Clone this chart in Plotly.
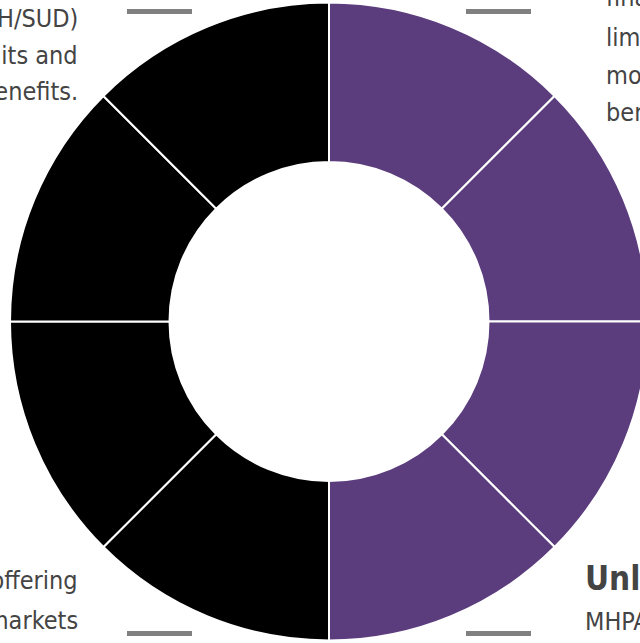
import plotly.graph_objects as go

W, H = 650, 643  # figure is slightly wider than the 640px window; overflow hidden

# Data
segments = ["Right 1", "Right 2", "Right 3", "Right 4", "Left 1", "Left 2", "Left 3", "Left 4"]
values = [1, 1, 1, 1, 1, 1, 1, 1]
seg_colors = ["#5B3D7E"] * 4 + ["#000000"] * 4

top_left_lines = ["parity for (MH/SUD)", "treatment limits and", "benefits."]
top_right_lines = ["financial", "limits", "more", "benefits"]
bottom_left_lines = ["plans offering", "in the markets"]
bottom_right_title = "Unlimited"
bottom_right_lines = ["MHPAEA"]

TEXT_COLOR = "#444444"
FONT = "DejaVu Sans Condensed, DejaVu Sans, sans-serif"
FS = 25

fig = go.Figure()
fig.add_trace(go.Pie(
    labels=segments,
    values=values,
    sort=False,
    direction="clockwise",
    rotation=0,
    hole=0.5,
    marker=dict(colors=seg_colors, line=dict(color="white", width=2)),
    textinfo="none",
    hoverinfo="skip",
    showlegend=False,
    domain=dict(x=[10 / W, 648 / W], y=[0, 1]),
))

def px(x):
    return x / W

def py(y):
    return 1 - y / H

annotations = []

def add_line(text, x, baseline, anchor, size=FS, bold=False):
    t = f"<b>{text}</b>" if bold else text
    annotations.append(dict(
        text=t, x=px(x), y=py(baseline - 0.34 * size), xref="paper", yref="paper",
        xanchor=anchor, yanchor="middle", showarrow=False,
        font=dict(family=FONT, size=size, color=TEXT_COLOR),
    ))

for t, b in zip(top_left_lines, [27, 64, 100]):
    add_line(t, 80, b, "right")
for t, b in zip(top_right_lines, [6, 46, 84, 121]):
    add_line(t, 604, b, "left")
for t, b in zip(bottom_left_lines, [589, 629]):
    add_line(t, 80, b, "right")
add_line(bottom_right_title, 583, 590, "left", size=33, bold=True)
for t, b in zip(bottom_right_lines, [630]):
    add_line(t, 583, b, "left")

shapes = []
for (x0, x1, y) in [(127, 192, 11.5), (466, 531, 11.5), (127, 192, 633.5), (466, 531, 633.5)]:
    shapes.append(dict(type="line", xref="paper", yref="paper",
                       x0=px(x0), x1=px(x1), y0=py(y), y1=py(y),
                       line=dict(color="#808080", width=5)))

fig.update_layout(
    width=W, height=H,
    margin=dict(l=0, r=0, t=0, b=0),
    paper_bgcolor="white", plot_bgcolor="white",
    annotations=annotations,
    shapes=shapes,
    showlegend=False,
)

fig.write_html("out.html",
               config={"displayModeBar": False},
               post_script="document.body.style.margin='0';document.body.style.overflow='hidden';")
